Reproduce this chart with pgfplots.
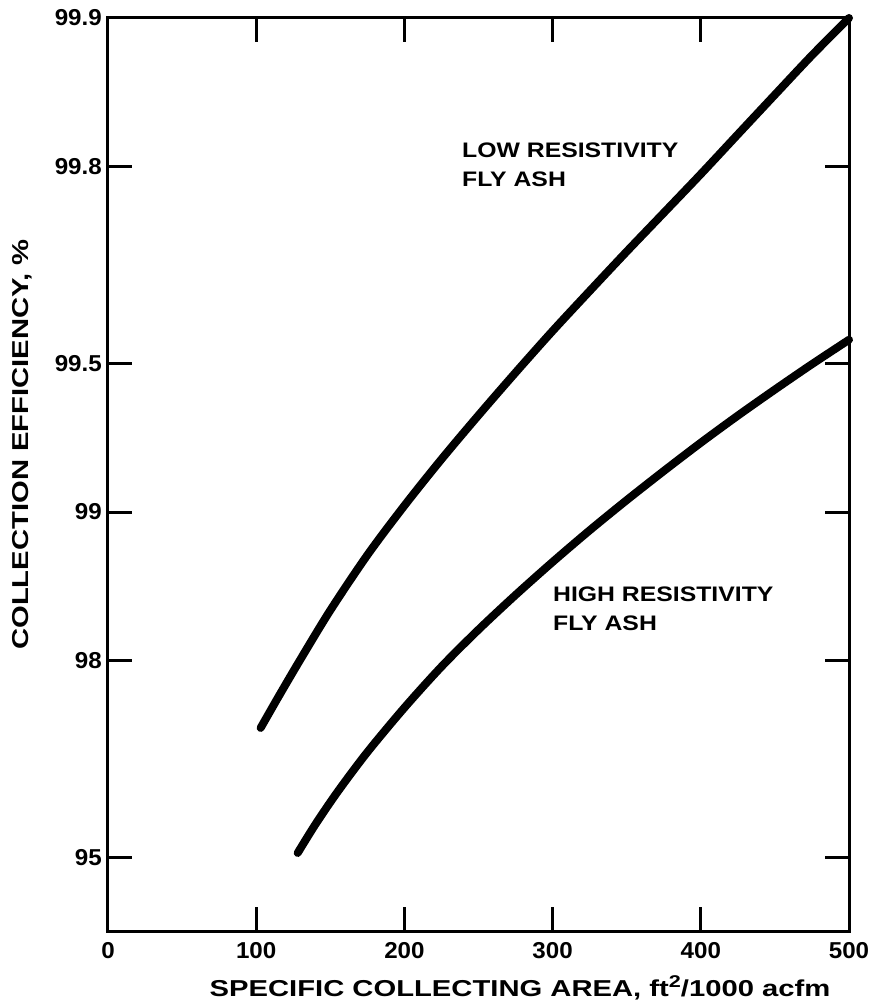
\documentclass[border=0pt]{standalone}
\usepackage{fontspec}
\setmainfont{Liberation Sans}
\newfontfamily\tickfont{Liberation Sans}[FakeStretch=1.05]
\newfontfamily\labfont{Liberation Sans}[FakeStretch=1.27]
\newfontfamily\notefont{Liberation Sans}[FakeStretch=1.18]
\usepackage{pgfplots}
\usepackage{pgfplotstable}
\pgfplotsset{compat=1.18}

% Collection efficiency (%) against specific collecting area (ft^2/1000 acfm)
\pgfplotstableread{
X     E
103   97.265
115   97.634
130   98.016
150   98.419
175   98.778
200   99.0295
225   99.218
250   99.363
275   99.478
300   99.570
325   99.643
350   99.703
375   99.752
400   99.793
425   99.828
450   99.857
475   99.881
500   99.900
}\lowres

\pgfplotstableread{
X     E
128   95.102
140   95.715
155   96.319
175   96.938
200   97.511
225   97.944
250   98.270
275   98.528
300   98.738
325   98.911
350   99.054
375   99.174
400   99.276
425   99.362
450   99.435
475   99.498
500   99.552
}\highres

\begin{document}
\begin{tikzpicture}
\path[use as bounding box] (0,0) rectangle (874pt,-1003pt);
\begin{axis}[
  at={(108pt,-931pt)}, anchor=south west,
  scale only axis, width=741pt, height=913pt,
  xmin=0, xmax=500, ymin=-0.848, ymax=1,
  xtick={0,100,...,500},
  % probability-type scale: position = -log10(100 - efficiency)
  ytick={1,0.69897,0.30103,0,-0.30103,-0.69897},
  yticklabels={99.9,99.8,99.5,99,98,95},
  tick align=inside, major tick length=24pt,
  every tick/.style={line width=3pt, black},
  axis line style={line width=3pt},
  /pgf/number format/assume math mode=true,
  tick label style={font=\tickfont\bfseries\fontsize{23}{23}\selectfont, inner sep=0pt},
  xticklabel style={yshift=-11pt},
  yticklabel style={xshift=-6pt},
  clip=false,
]
\addplot[black, line width=8pt, line cap=round, smooth] table[x=X, y expr={-log10(100-\thisrow{E})}] {\lowres};
\addplot[black, line width=8pt, line cap=round, smooth] table[x=X, y expr={-log10(100-\thisrow{E})}] {\highres};

\node[anchor=north west, inner sep=0pt, align=left, font=\notefont\bfseries\fontsize{21}{29}\selectfont]
  at (axis description cs:0.4777,0.863) {LOW RESISTIVITY\\FLY ASH};
\node[anchor=north west, inner sep=0pt, align=left, font=\notefont\bfseries\fontsize{21}{29}\selectfont]
  at (axis description cs:0.6005,0.3768) {HIGH RESISTIVITY\\FLY ASH};

\node[font=\labfont\bfseries\fontsize{23}{23}\selectfont]
  at (axis description cs:0.556,-0.0624) {SPECIFIC COLLECTING AREA, ft\raisebox{0.4em}{\fontsize{17}{17}\selectfont 2}/1000 acfm};
\node[rotate=90, font=\labfont\bfseries\fontsize{23}{23}\selectfont]
  at (axis description cs:-0.116,0.533) {COLLECTION EFFICIENCY, \%};
\end{axis}
\end{tikzpicture}
\end{document}
